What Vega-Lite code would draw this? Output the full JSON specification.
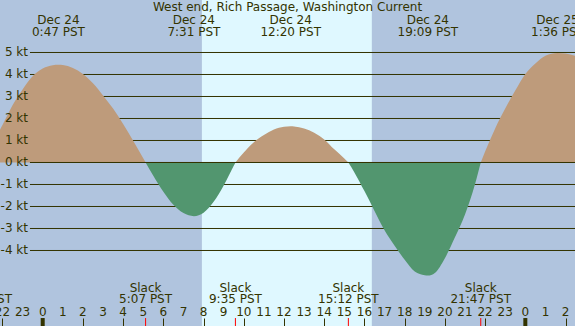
{
  "$schema": "https://vega.github.io/schema/vega-lite/v6.json",
  "width": 575,
  "height": 326,
  "autosize": "none",
  "padding": 0,
  "background": "#b0c4de",
  "datasets": {
    "heading": [{"time": "2024-12-24T12:10:23Z", "text": "West end, Rich Passage, Washington Current"}],
    "day": [{"start": "2024-12-24T07:55:00Z", "end": "2024-12-24T16:22:00Z"}],
    "midnights": [{"time": "2024-12-24T00:00:00Z"}, {"time": "2024-12-25T00:00:00Z"}],
    "levels": [{"kt": -4, "label": "-4 kt"}, {"kt": -3, "label": "-3 kt"}, {"kt": -2, "label": "-2 kt"}, {"kt": -1, "label": "-1 kt"}, {"kt": 0, "label": "0 kt"}, {"kt": 1, "label": "1 kt"}, {"kt": 2, "label": "2 kt"}, {"kt": 3, "label": "3 kt"}, {"kt": 4, "label": "4 kt"}, {"kt": 5, "label": "5 kt"}],
    "hours": [
      {"time": "2024-12-23T22:00:00Z", "label": "22"}, {"time": "2024-12-23T23:00:00Z", "label": "23"},
      {"time": "2024-12-24T00:00:00Z", "label": "0"}, {"time": "2024-12-24T01:00:00Z", "label": "1"},
      {"time": "2024-12-24T02:00:00Z", "label": "2"}, {"time": "2024-12-24T03:00:00Z", "label": "3"},
      {"time": "2024-12-24T04:00:00Z", "label": "4"}, {"time": "2024-12-24T05:00:00Z", "label": "5"},
      {"time": "2024-12-24T06:00:00Z", "label": "6"}, {"time": "2024-12-24T07:00:00Z", "label": "7"},
      {"time": "2024-12-24T08:00:00Z", "label": "8"}, {"time": "2024-12-24T09:00:00Z", "label": "9"},
      {"time": "2024-12-24T10:00:00Z", "label": "10"}, {"time": "2024-12-24T11:00:00Z", "label": "11"},
      {"time": "2024-12-24T12:00:00Z", "label": "12"}, {"time": "2024-12-24T13:00:00Z", "label": "13"},
      {"time": "2024-12-24T14:00:00Z", "label": "14"}, {"time": "2024-12-24T15:00:00Z", "label": "15"},
      {"time": "2024-12-24T16:00:00Z", "label": "16"}, {"time": "2024-12-24T17:00:00Z", "label": "17"},
      {"time": "2024-12-24T18:00:00Z", "label": "18"}, {"time": "2024-12-24T19:00:00Z", "label": "19"},
      {"time": "2024-12-24T20:00:00Z", "label": "20"}, {"time": "2024-12-24T21:00:00Z", "label": "21"},
      {"time": "2024-12-24T22:00:00Z", "label": "22"}, {"time": "2024-12-24T23:00:00Z", "label": "23"},
      {"time": "2024-12-25T00:00:00Z", "label": "0"}, {"time": "2024-12-25T01:00:00Z", "label": "1"},
      {"time": "2024-12-25T02:00:00Z", "label": "2"}
    ],
    "curve": [
      {"time": "2024-12-23T20:58:00Z", "v": 0, "seg": "f1", "dir": "flood"},
      {"time": "2024-12-23T21:30:00Z", "v": 0.85, "seg": "f1", "dir": "flood"},
      {"time": "2024-12-23T22:00:00Z", "v": 1.7, "seg": "f1", "dir": "flood"},
      {"time": "2024-12-23T22:30:00Z", "v": 2.6, "seg": "f1", "dir": "flood"},
      {"time": "2024-12-23T23:00:00Z", "v": 3.32, "seg": "f1", "dir": "flood"},
      {"time": "2024-12-23T23:30:00Z", "v": 3.92, "seg": "f1", "dir": "flood"},
      {"time": "2024-12-24T00:00:00Z", "v": 4.27, "seg": "f1", "dir": "flood"},
      {"time": "2024-12-24T00:30:00Z", "v": 4.42, "seg": "f1", "dir": "flood"},
      {"time": "2024-12-24T00:47:00Z", "v": 4.44, "seg": "f1", "dir": "flood"},
      {"time": "2024-12-24T01:00:00Z", "v": 4.43, "seg": "f1", "dir": "flood"},
      {"time": "2024-12-24T01:30:00Z", "v": 4.29, "seg": "f1", "dir": "flood"},
      {"time": "2024-12-24T02:00:00Z", "v": 4.02, "seg": "f1", "dir": "flood"},
      {"time": "2024-12-24T02:30:00Z", "v": 3.6, "seg": "f1", "dir": "flood"},
      {"time": "2024-12-24T03:00:00Z", "v": 3.05, "seg": "f1", "dir": "flood"},
      {"time": "2024-12-24T03:30:00Z", "v": 2.45, "seg": "f1", "dir": "flood"},
      {"time": "2024-12-24T04:00:00Z", "v": 1.75, "seg": "f1", "dir": "flood"},
      {"time": "2024-12-24T04:30:00Z", "v": 0.99, "seg": "f1", "dir": "flood"},
      {"time": "2024-12-24T05:00:00Z", "v": 0.19, "seg": "f1", "dir": "flood"},
      {"time": "2024-12-24T05:07:00Z", "v": 0, "seg": "f1", "dir": "flood"},
      {"time": "2024-12-24T05:07:00Z", "v": 0, "seg": "e1", "dir": "ebb"},
      {"time": "2024-12-24T05:30:00Z", "v": -0.6, "seg": "e1", "dir": "ebb"},
      {"time": "2024-12-24T06:00:00Z", "v": -1.33, "seg": "e1", "dir": "ebb"},
      {"time": "2024-12-24T06:30:00Z", "v": -1.92, "seg": "e1", "dir": "ebb"},
      {"time": "2024-12-24T07:00:00Z", "v": -2.3, "seg": "e1", "dir": "ebb"},
      {"time": "2024-12-24T07:31:00Z", "v": -2.44, "seg": "e1", "dir": "ebb"},
      {"time": "2024-12-24T08:00:00Z", "v": -2.28, "seg": "e1", "dir": "ebb"},
      {"time": "2024-12-24T08:30:00Z", "v": -1.79, "seg": "e1", "dir": "ebb"},
      {"time": "2024-12-24T09:00:00Z", "v": -1.05, "seg": "e1", "dir": "ebb"},
      {"time": "2024-12-24T09:30:00Z", "v": -0.15, "seg": "e1", "dir": "ebb"},
      {"time": "2024-12-24T09:35:00Z", "v": 0, "seg": "e1", "dir": "ebb"},
      {"time": "2024-12-24T09:35:00Z", "v": 0, "seg": "f2", "dir": "flood"},
      {"time": "2024-12-24T10:00:00Z", "v": 0.45, "seg": "f2", "dir": "flood"},
      {"time": "2024-12-24T10:30:00Z", "v": 0.92, "seg": "f2", "dir": "flood"},
      {"time": "2024-12-24T11:00:00Z", "v": 1.25, "seg": "f2", "dir": "flood"},
      {"time": "2024-12-24T11:30:00Z", "v": 1.5, "seg": "f2", "dir": "flood"},
      {"time": "2024-12-24T12:00:00Z", "v": 1.62, "seg": "f2", "dir": "flood"},
      {"time": "2024-12-24T12:20:00Z", "v": 1.65, "seg": "f2", "dir": "flood"},
      {"time": "2024-12-24T12:30:00Z", "v": 1.64, "seg": "f2", "dir": "flood"},
      {"time": "2024-12-24T13:00:00Z", "v": 1.54, "seg": "f2", "dir": "flood"},
      {"time": "2024-12-24T13:30:00Z", "v": 1.35, "seg": "f2", "dir": "flood"},
      {"time": "2024-12-24T14:00:00Z", "v": 1.05, "seg": "f2", "dir": "flood"},
      {"time": "2024-12-24T14:30:00Z", "v": 0.6, "seg": "f2", "dir": "flood"},
      {"time": "2024-12-24T15:00:00Z", "v": 0.18, "seg": "f2", "dir": "flood"},
      {"time": "2024-12-24T15:12:00Z", "v": 0, "seg": "f2", "dir": "flood"},
      {"time": "2024-12-24T15:12:00Z", "v": 0, "seg": "e2", "dir": "ebb"},
      {"time": "2024-12-24T15:30:00Z", "v": -0.45, "seg": "e2", "dir": "ebb"},
      {"time": "2024-12-24T16:00:00Z", "v": -1.3, "seg": "e2", "dir": "ebb"},
      {"time": "2024-12-24T16:30:00Z", "v": -2.2, "seg": "e2", "dir": "ebb"},
      {"time": "2024-12-24T17:00:00Z", "v": -3.08, "seg": "e2", "dir": "ebb"},
      {"time": "2024-12-24T17:30:00Z", "v": -3.78, "seg": "e2", "dir": "ebb"},
      {"time": "2024-12-24T18:00:00Z", "v": -4.42, "seg": "e2", "dir": "ebb"},
      {"time": "2024-12-24T18:30:00Z", "v": -4.95, "seg": "e2", "dir": "ebb"},
      {"time": "2024-12-24T19:00:00Z", "v": -5.12, "seg": "e2", "dir": "ebb"},
      {"time": "2024-12-24T19:09:00Z", "v": -5.14, "seg": "e2", "dir": "ebb"},
      {"time": "2024-12-24T19:30:00Z", "v": -5.02, "seg": "e2", "dir": "ebb"},
      {"time": "2024-12-24T20:00:00Z", "v": -4.35, "seg": "e2", "dir": "ebb"},
      {"time": "2024-12-24T20:30:00Z", "v": -3.4, "seg": "e2", "dir": "ebb"},
      {"time": "2024-12-24T21:00:00Z", "v": -2.36, "seg": "e2", "dir": "ebb"},
      {"time": "2024-12-24T21:30:00Z", "v": -0.98, "seg": "e2", "dir": "ebb"},
      {"time": "2024-12-24T21:47:00Z", "v": 0, "seg": "e2", "dir": "ebb"},
      {"time": "2024-12-24T21:47:00Z", "v": 0, "seg": "f3", "dir": "flood"},
      {"time": "2024-12-24T22:00:00Z", "v": 0.5, "seg": "f3", "dir": "flood"},
      {"time": "2024-12-24T22:30:00Z", "v": 1.55, "seg": "f3", "dir": "flood"},
      {"time": "2024-12-24T23:00:00Z", "v": 2.45, "seg": "f3", "dir": "flood"},
      {"time": "2024-12-24T23:30:00Z", "v": 3.27, "seg": "f3", "dir": "flood"},
      {"time": "2024-12-25T00:00:00Z", "v": 4.02, "seg": "f3", "dir": "flood"},
      {"time": "2024-12-25T00:30:00Z", "v": 4.5, "seg": "f3", "dir": "flood"},
      {"time": "2024-12-25T01:00:00Z", "v": 4.85, "seg": "f3", "dir": "flood"},
      {"time": "2024-12-25T01:36:00Z", "v": 4.98, "seg": "f3", "dir": "flood"},
      {"time": "2024-12-25T02:00:00Z", "v": 4.95, "seg": "f3", "dir": "flood"},
      {"time": "2024-12-25T02:30:00Z", "v": 4.85, "seg": "f3", "dir": "flood"}
    ],
    "extremes": [
      {"time": "2024-12-24T00:47:00Z", "date": "Dec 24", "label": "0:47 PST"},
      {"time": "2024-12-24T07:31:00Z", "date": "Dec 24", "label": "7:31 PST"},
      {"time": "2024-12-24T12:20:00Z", "date": "Dec 24", "label": "12:20 PST"},
      {"time": "2024-12-24T19:09:00Z", "date": "Dec 24", "label": "19:09 PST"},
      {"time": "2024-12-25T01:36:00Z", "date": "Dec 25", "label": "1:36 PST"}
    ],
    "slacks": [
      {"time": "2024-12-23T20:58:00Z", "event": "Slack", "label": "20:58 PST"},
      {"time": "2024-12-24T05:07:00Z", "event": "Slack", "label": "5:07 PST"},
      {"time": "2024-12-24T09:35:00Z", "event": "Slack", "label": "9:35 PST"},
      {"time": "2024-12-24T15:12:00Z", "event": "Slack", "label": "15:12 PST"},
      {"time": "2024-12-24T21:47:00Z", "event": "Slack", "label": "21:47 PST"}
    ]
  },
  "layer": [
    {
      "data": {"name": "day"},
      "mark": {"type": "rect", "color": "#dff8ff"},
      "encoding": {
        "x": {"field": "start", "type": "temporal", "title": null,
          "scale": {"type": "utc", "domain": [1734990756000, 1735093692000]},
          "axis": {
            "orient": "bottom", "title": null, "labels": false,
            "values": [1734991200000, 1734994800000, 1734998400000, 1735002000000, 1735005600000, 1735009200000, 1735012800000, 1735016400000, 1735020000000, 1735023600000, 1735027200000, 1735030800000, 1735034400000, 1735038000000, 1735041600000, 1735045200000, 1735048800000, 1735052400000, 1735056000000, 1735059600000, 1735063200000, 1735066800000, 1735070400000, 1735074000000, 1735077600000, 1735081200000, 1735084800000, 1735088400000, 1735092000000],
            "tickSize": -8, "domain": false, "grid": false,
            "tickColor": "#333300", "tickWidth": 1, "zindex": 1
          }
        },
        "x2": {"field": "end"}
      }
    },
    {
      "data": {"name": "levels"},
      "mark": {"type": "rule", "color": "#333300", "strokeWidth": 1, "clip": true},
      "encoding": {
        "y": {"field": "kt", "type": "quantitative", "title": null,
          "scale": {"domain": [-7.432, 7.386], "nice": false, "zero": false},
          "axis": {"orient": "left", "title": null, "labels": false, "ticks": false, "domain": false, "grid": false}
        },
        "x": {"datum": 1734996120000, "type": "temporal", "title": null, "scale": {"type": "utc"}},
        "x2": {"datum": 1735095600000}
      }
    },
    {
      "data": {"name": "curve"},
      "mark": {"type": "area", "interpolate": "monotone", "clip": true},
      "encoding": {
        "x": {"field": "time", "type": "temporal", "title": null, "scale": {"type": "utc"}},
        "y": {"field": "v", "type": "quantitative", "title": null},
        "y2": {"datum": 0},
        "color": {"field": "dir", "type": "nominal", "legend": null,
          "scale": {"domain": ["flood", "ebb"], "range": ["#be9b7b", "#52966f"]}},
        "detail": {"field": "seg"}
      }
    },
    {
      "data": {"name": "heading"},
      "mark": {"type": "rule", "color": "#333300", "strokeWidth": 1, "clip": true},
      "encoding": {
        "y": {"datum": 0, "type": "quantitative", "title": null},
        "x": {"datum": 1734996120000, "type": "temporal", "title": null, "scale": {"type": "utc"}},
        "x2": {"datum": 1735095600000}
      }
    },
    {
      "data": {"name": "midnights"},
      "mark": {"type": "rule", "color": "#333300", "strokeWidth": 4, "clip": true},
      "encoding": {
        "x": {"field": "time", "type": "temporal", "title": null, "scale": {"type": "utc"}},
        "y": {"datum": -7.07, "type": "quantitative", "title": null},
        "y2": {"datum": -7.432}
      }
    },
    {
      "data": {"name": "slacks"},
      "mark": {"type": "rule", "color": "#ff0000", "strokeWidth": 1, "clip": true},
      "encoding": {
        "x": {"field": "time", "type": "temporal", "title": null, "scale": {"type": "utc"}},
        "y": {"datum": -7.07, "type": "quantitative", "title": null},
        "y2": {"datum": -7.432}
      }
    },
    {
      "data": {"name": "levels"},
      "mark": {"type": "text", "align": "right", "baseline": "middle", "font": "DejaVu Sans", "fontSize": 12, "color": "#333300"},
      "encoding": {
        "x": {"datum": 1734995768400, "type": "temporal", "title": null, "scale": {"type": "utc"}},
        "y": {"field": "kt", "type": "quantitative", "title": null},
        "text": {"field": "label"}
      }
    },
    {
      "data": {"name": "hours"},
      "mark": {"type": "text", "align": "center", "baseline": "alphabetic", "font": "DejaVu Sans", "fontSize": 12, "color": "#333300"},
      "encoding": {
        "x": {"field": "time", "type": "temporal", "title": null, "scale": {"type": "utc"}},
        "y": {"datum": -6.964, "type": "quantitative", "title": null},
        "text": {"field": "label"}
      }
    },
    {
      "data": {"name": "heading"},
      "mark": {"type": "text", "align": "center", "baseline": "alphabetic", "font": "DejaVu Sans", "fontSize": 12, "color": "#333300"},
      "encoding": {
        "x": {"field": "time", "type": "temporal", "title": null, "scale": {"type": "utc"}},
        "y": {"datum": 6.886, "type": "quantitative", "title": null},
        "text": {"field": "text"}
      }
    },
    {
      "data": {"name": "extremes"},
      "mark": {"type": "text", "align": "center", "baseline": "alphabetic", "font": "DejaVu Sans", "fontSize": 12, "color": "#333300"},
      "encoding": {
        "x": {"field": "time", "type": "temporal", "title": null, "scale": {"type": "utc"}},
        "y": {"datum": 6.295, "type": "quantitative", "title": null},
        "text": {"field": "date"}
      }
    },
    {
      "data": {"name": "extremes"},
      "mark": {"type": "text", "align": "center", "baseline": "alphabetic", "font": "DejaVu Sans", "fontSize": 12, "color": "#333300"},
      "encoding": {
        "x": {"field": "time", "type": "temporal", "title": null, "scale": {"type": "utc"}},
        "y": {"datum": 5.764, "type": "quantitative", "title": null},
        "text": {"field": "label"}
      }
    },
    {
      "data": {"name": "slacks"},
      "mark": {"type": "text", "align": "center", "baseline": "alphabetic", "font": "DejaVu Sans", "fontSize": 12, "color": "#333300"},
      "encoding": {
        "x": {"field": "time", "type": "temporal", "title": null, "scale": {"type": "utc"}},
        "y": {"datum": -5.873, "type": "quantitative", "title": null},
        "text": {"field": "event"}
      }
    },
    {
      "data": {"name": "slacks"},
      "mark": {"type": "text", "align": "center", "baseline": "alphabetic", "font": "DejaVu Sans", "fontSize": 12, "color": "#333300"},
      "encoding": {
        "x": {"field": "time", "type": "temporal", "title": null, "scale": {"type": "utc"}},
        "y": {"datum": -6.4, "type": "quantitative", "title": null},
        "text": {"field": "label"}
      }
    }
  ],
  "config": {
    "view": {"stroke": null, "fill": "#b0c4de"},
    "font": "DejaVu Sans"
  }
}
